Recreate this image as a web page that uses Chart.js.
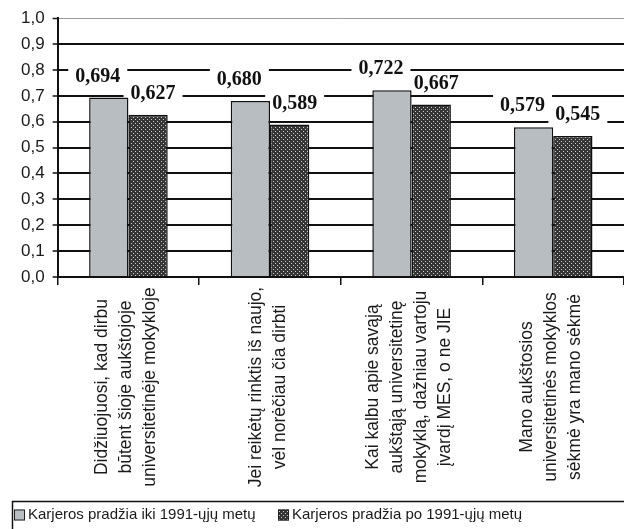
<!DOCTYPE html>
<html>
<head>
<meta charset="utf-8">
<script src="https://cdn.jsdelivr.net/npm/chart.js@4.4.1/dist/chart.umd.min.js"></script>
<style>
  html, body { margin: 0; padding: 0; background: #fff; }
  #wrap { width: 624px; height: 529px; position: relative; }
</style>
</head>
<body>
<div id="wrap"><canvas id="chart"></canvas></div>
<script>
// Survey statements (each entry is one wrapped category label)
const categories = [
  ["Didžiuojuosi, kad dirbu", "būtent šioje aukštojoje", "universitetinėje mokykloje"],
  ["Jei reikėtų rinktis iš naujo,", "vėl norėčiau čia dirbti"],
  ["Kai kalbu apie savąją", "aukštąją universitetinę", "mokyklą, dažniau vartoju", "įvardį MES, o ne JIE"],
  ["Mano aukštosios", "universitetinės mokyklos", "sėkmė yra mano sėkmė"]
];
const seriesNames = ["Karjeros pradžia iki 1991-ųjų metų", "Karjeros pradžia po 1991-ųjų metų"];
const careerBefore1991 = [0.694, 0.680, 0.722, 0.579];
const careerAfter1991 = [0.627, 0.589, 0.667, 0.545];
const yTicks = [0, 0.1, 0.2, 0.3, 0.4, 0.5, 0.6, 0.7, 0.8, 0.9, 1.0];

const fmt = v => v.toFixed(3).replace('.', ',');

// Dotted fill for the second series
function dotPattern() {
  const c = document.createElement('canvas');
  c.width = 4; c.height = 4;
  const g = c.getContext('2d');
  g.fillStyle = '#353535';
  g.fillRect(0, 0, 4, 4);
  g.fillStyle = '#cfcfcf';
  g.fillRect(1, 1, 1, 1);
  g.fillRect(3, 3, 1, 1);
  return g.createPattern(c, 'repeat');
}
const darkFill = dotPattern();
const lightFill = '#b8bdc2';

const SANS = 'Arial, "Liberation Sans", sans-serif';
const SERIF = '"Times New Roman", "Liberation Serif", serif';
const LABEL_FONT = 'bold 20px ' + SERIF;
const LABEL_SHIFT = [-11, 5];

// White page background
const bgPlugin = {
  id: 'bg',
  beforeDraw(chart) {
    const ctx = chart.ctx;
    ctx.save();
    ctx.fillStyle = '#fff';
    ctx.fillRect(0, 0, chart.width, chart.height);
    ctx.restore();
  }
};

// Where each value label sits, relative to its bar
function eachLabel(chart, fn) {
  chart.data.datasets.forEach((ds, di) => {
    chart.getDatasetMeta(di).data.forEach((bar, i) => {
      fn(fmt(ds.data[i]), bar.x + LABEL_SHIFT[di], bar.y - 22);
    });
  });
}

// Bold value labels: white boxes go under the bars (hiding gridlines), text on top
const valueLabels = {
  id: 'valueLabels',
  beforeDatasetsDraw(chart) {
    const ctx = chart.ctx;
    ctx.save();
    ctx.font = LABEL_FONT;
    ctx.fillStyle = '#fff';
    eachLabel(chart, (txt, x, y) => {
      const w = ctx.measureText(txt).width;
      ctx.fillRect(x - w / 2 - 7, y - 11, w + 14, 22);
    });
    ctx.restore();
  },
  afterDatasetsDraw(chart) {
    const ctx = chart.ctx;
    ctx.save();
    ctx.font = LABEL_FONT;
    ctx.textAlign = 'center';
    ctx.textBaseline = 'middle';
    ctx.fillStyle = '#111';
    eachLabel(chart, (txt, x, y) => ctx.fillText(txt, x, y + 1));
    ctx.restore();
  }
};

// Vertical, centred multi-line category labels under the axis
const categoryLabels = {
  id: 'categoryLabels',
  afterDraw(chart) {
    const ctx = chart.ctx;
    const xs = chart.scales.x;
    const spacing = 24;
    const cy = 387;
    ctx.save();
    ctx.font = '17.5px ' + SANS;
    ctx.fillStyle = '#1a1a1a';
    ctx.textAlign = 'center';
    ctx.textBaseline = 'middle';
    categories.forEach((lines, i) => {
      const cx = xs.getPixelForValue(i) - 2;
      lines.forEach((ln, k) => {
        const off = (k - (lines.length - 1) / 2) * spacing;
        ctx.save();
        ctx.translate(cx + off, cy);
        ctx.rotate(-Math.PI / 2);
        ctx.fillText(ln, 0, 0);
        ctx.restore();
      });
    });
    ctx.restore();
  }
};

// Framed legend along the bottom edge
const boxLegend = {
  id: 'boxLegend',
  afterDraw(chart) {
    const ctx = chart.ctx;
    const top = 501, midY = 515;
    ctx.save();
    ctx.strokeStyle = '#111';
    ctx.lineWidth = 1.5;
    ctx.strokeRect(12.5, top + 0.5, 640, 60);
    const items = [
      { x: 14, fill: lightFill, label: seriesNames[0] },
      { x: 278, fill: darkFill, label: seriesNames[1] }
    ];
    ctx.font = '15px ' + SANS;
    ctx.textBaseline = 'middle';
    ctx.textAlign = 'left';
    items.forEach(it => {
      ctx.fillStyle = it.fill;
      ctx.fillRect(it.x, midY - 5.5, 11, 11);
      ctx.lineWidth = 1;
      ctx.strokeStyle = '#222';
      ctx.strokeRect(it.x + 0.5, midY - 5, 10, 10);
      ctx.fillStyle = '#1a1a1a';
      ctx.fillText(it.label, it.x + 14, midY);
    });
    ctx.restore();
  }
};

new Chart(document.getElementById('chart'), {
  type: 'bar',
  data: {
    labels: categories,
    datasets: [
      {
        label: seriesNames[0],
        data: careerBefore1991,
        backgroundColor: lightFill,
        borderColor: '#111',
        borderWidth: 1.5,
        categoryPercentage: 0.555,
        barPercentage: 1.0
      },
      {
        label: seriesNames[1],
        data: careerAfter1991,
        backgroundColor: darkFill,
        borderColor: '#111',
        borderWidth: 1.5,
        categoryPercentage: 0.555,
        barPercentage: 1.0
      }
    ]
  },
  options: {
    responsive: true,
    maintainAspectRatio: false,
    animation: false,
    devicePixelRatio: 1,
    layout: { padding: { left: 13, top: 8, right: 0, bottom: 28 } },
    plugins: {
      legend: { display: false },
      tooltip: { enabled: false }
    },
    scales: {
      x: {
        grid: {
          offset: true,
          drawOnChartArea: false,
          drawTicks: true,
          tickLength: 8,
          color: '#111',
          lineWidth: 1.5
        },
        border: { display: true, color: '#111', width: 2 },
        ticks: { display: false },
        afterFit(scale) { scale.height = 224; }
      },
      y: {
        min: 0,
        max: 1,
        afterBuildTicks(scale) { scale.ticks = yTicks.map(v => ({ value: v })); },
        grid: {
          color: c => (c.tick && c.tick.value === 1 ? '#9a9a9a' : '#111'),
          lineWidth: c => (c.tick && c.tick.value === 1 ? 1 : 2),
          tickColor: '#111',
          tickWidth: 1.5,
          tickLength: 5,
          drawTicks: true
        },
        border: { display: true, color: '#111', width: 2 },
        ticks: {
          padding: 8,
          color: '#1a1a1a',
          font: { family: SANS, size: 17 },
          callback: v => v.toFixed(1).replace('.', ',')
        }
      }
    }
  },
  plugins: [bgPlugin, valueLabels, categoryLabels, boxLegend]
});
</script>
</body>
</html>
